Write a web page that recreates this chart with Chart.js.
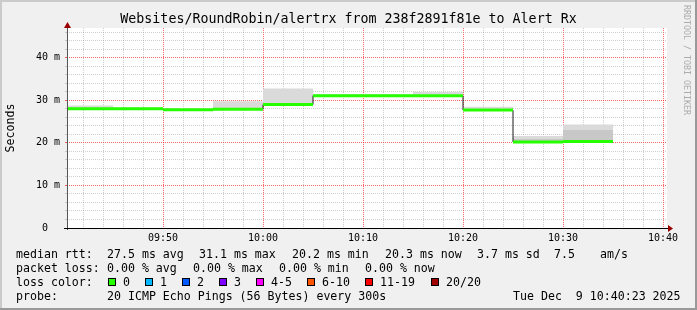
<!DOCTYPE html>
<html>
<head>
<meta charset="utf-8">
<script src="https://cdn.jsdelivr.net/npm/chart.js@4/dist/chart.umd.min.js"></script>
<style>
  html, body { margin: 0; padding: 0; background: #f0f0f0; }
  #wrap { position: relative; width: 697px; height: 310px; background: #f0f0f0; overflow: hidden;
          font-family: "DejaVu Sans Mono", monospace; color: #000; }
  #wrap canvas { position: absolute; left: 0; top: 0; }
  .edge { position: absolute; }
  .lg { position: absolute; font-size: 11.6px; line-height: 14px; white-space: pre; }
  .box { position: absolute; width: 6px; height: 6px; border: 1px solid #000; }
  #mark { position: absolute; left: 682px; top: 5px; writing-mode: vertical-rl; font-size: 8.3px;
          line-height: 10px; color: #ababab; white-space: pre; }
</style>
</head>
<body>
<div id="wrap">
  <canvas id="chart" width="697" height="310"></canvas>
  <div class="edge" style="left:0;top:0;width:697px;height:2px;background:#cbcbcb"></div>
  <div class="edge" style="left:0;top:0;width:2px;height:310px;background:#cbcbcb"></div>
  <div class="edge" style="left:0;top:308px;width:697px;height:2px;background:#999"></div>
  <div class="edge" style="left:695px;top:0;width:2px;height:310px;background:#999"></div>
  <div id="mark">RRDTOOL / TOBI OETIKER</div>
</div>
<script>
// smokeping style graph: 5 min steps, 1 hour window

const windowStart = "09:40:24";
const windowEnd = "10:40:24";
const periodStart = ["09:40", "09:45", "09:50", "09:55", "10:00", "10:05", "10:10", "10:15", "10:20", "10:25", "10:30"];
const stepMinutes = 5;

const medianRtt = [28.0, 28.0, 27.8, 27.9, 29.0, 31.1, 31.1, 31.1, 27.7, 20.2, 20.3];
const smokeLow  = [27.7, 27.8, 27.6, 27.7, 28.8, 30.9, 30.9, 30.9, 27.5, 20.0, 20.1];
const smokeMid  = [28.2, 28.1, 27.9, 28.2, 29.3, 31.2, 31.2, 31.3, 27.9, 20.9, 23.0];
const smokeHigh = [28.8, 28.3, 28.0, 29.8, 32.8, 31.4, 31.4, 32.0, 28.5, 21.6, 24.3];

const yMax = 47;
const yLabelTicks = [0, 10, 20, 30, 40];
const xTickLabels = ["09:50", "10:00", "10:10", "10:20", "10:30", "10:40"];

const titleText = "Websites/RoundRobin/alertrx from 238f2891f81e to Alert Rx";
const rttLegend = ["median rtt:", "27.5 ms avg", "31.1 ms max", "20.2 ms min", "20.3 ms now", "3.7 ms sd", "7.5", "am/s"];
const lossLegend = ["packet loss:", "0.00 % avg", "0.00 % max", "0.00 % min", "0.00 % now"];
const lossLabels = ["0", "1", "2", "3", "4-5", "6-10", "11-19", "20/20"];
const lossColors = ["#26ff00", "#00b8ff", "#0059ff", "#7e00ff", "#ff00ff", "#ff5500", "#ff0000", "#a10000"];
const probeLegend = ["probe:", "20 ICMP Echo Pings (56 Bytes) every 300s", "Tue Dec  9 10:40:23 2025"];

const toMin = (s) => {
  const [h, m, sec] = s.split(":").map(Number);
  return h * 60 + m + (sec || 0) / 60;
};
const fmtMin = (v) => {
  const h = Math.floor(v / 60), m = Math.round(v - h * 60);
  return String(h).padStart(2, "0") + ":" + String(m).padStart(2, "0");
};

const xMin = toMin(windowStart);
const xMax = toMin(windowEnd);
const majorX = xTickLabels.map(toMin);
const isMajorX = (v) => majorX.some((m) => Math.abs(m - v) < 0.01);
const isMajorY = (v) => yLabelTicks.some((m) => Math.abs(m - v) < 0.01);

function stepped(values) {
  const pts = periodStart.map((t, i) => ({ x: toMin(t), y: values[i] }));
  const last = periodStart.length - 1;
  pts.push({ x: toMin(periodStart[last]) + stepMinutes, y: values[last] });
  return pts;
}

// flat pieces only, the verticals come from the dark line underneath
function flatPieces(values) {
  return periodStart.flatMap((t, i) => [
    { x: toMin(t), y: values[i] },
    { x: toMin(t) + stepMinutes, y: values[i] },
    { x: toMin(t) + stepMinutes, y: null }
  ]);
}

const MONO = "DejaVu Sans Mono";
const RED_GRID = "rgba(255, 0, 0, 0.6)";
const GRAY_GRID = "rgba(140, 140, 140, 0.42)";

const gridColor = (isMajor) => (c) => {
  const v = c.tick ? c.tick.value : c.scale.ticks[c.index] && c.scale.ticks[c.index].value;
  return isMajor(v) ? RED_GRID : GRAY_GRID;
};

const canvasBg = {
  id: "canvasBg",
  beforeDraw(chart) {
    const { ctx, chartArea: a } = chart;
    ctx.save();
    ctx.fillStyle = "#ffffff";
    ctx.fillRect(a.left, a.top, a.right - a.left, a.bottom - a.top);
    ctx.restore();
  }
};

const axisArrows = {
  id: "axisArrows",
  afterDatasetsDraw(chart) {
    const { ctx, chartArea: a } = chart;
    ctx.save();
    ctx.lineWidth = 1;
    ctx.strokeStyle = "#555";
    ctx.beginPath();
    ctx.moveTo(a.left + 0.5, a.bottom + 2);
    ctx.lineTo(a.left + 0.5, a.top - 3);
    ctx.stroke();
    ctx.strokeStyle = "#000";
    ctx.beginPath();
    ctx.moveTo(a.left - 3, a.bottom + 0.5);
    ctx.lineTo(a.right + 3, a.bottom + 0.5);
    ctx.stroke();
    ctx.fillStyle = "#9a0000";
    ctx.beginPath();
    ctx.moveTo(a.left + 0.5, a.top - 6);
    ctx.lineTo(a.left - 3, a.top);
    ctx.lineTo(a.left + 4, a.top);
    ctx.closePath();
    ctx.fill();
    ctx.beginPath();
    ctx.moveTo(a.right + 6, a.bottom + 0.5);
    ctx.lineTo(a.right + 1, a.bottom - 3);
    ctx.lineTo(a.right + 1, a.bottom + 4);
    ctx.closePath();
    ctx.fill();
    ctx.restore();
  }
};

new Chart(document.getElementById("chart"), {
  type: "line",
  data: {
    datasets: [
      {
        data: flatPieces(medianRtt),
        borderColor: "#26ff00",
        borderWidth: 3,
        borderCapStyle: "butt",
        spanGaps: false,
        fill: false,
        order: 0
      },
      {
        data: stepped(medianRtt),
        stepped: "before",
        borderColor: "#1a1a1a",
        borderWidth: 1,
        fill: false,
        order: 1
      },
      {
        data: stepped(smokeHigh),
        stepped: "before",
        borderWidth: 0,
        borderColor: "rgba(0,0,0,0)",
        backgroundColor: "rgb(218, 218, 218)",
        fill: "+1",
        order: 2
      },
      {
        data: stepped(smokeMid),
        stepped: "before",
        borderWidth: 0,
        borderColor: "rgba(0,0,0,0)",
        backgroundColor: "rgb(200, 200, 200)",
        fill: "+1",
        order: 3
      },
      {
        data: stepped(smokeLow),
        stepped: "before",
        borderWidth: 0,
        borderColor: "rgba(0,0,0,0)",
        fill: false,
        order: 4
      }
    ]
  },
  options: {
    responsive: false,
    animation: false,
    devicePixelRatio: 1,
    parsing: false,
    normalized: true,
    layout: { padding: 0 },
    elements: { point: { radius: 0, hoverRadius: 0 }, line: { tension: 0 } },
    plugins: {
      legend: { display: false },
      tooltip: { enabled: false },
      title: {
        display: true,
        text: titleText,
        color: "#000",
        font: { family: MONO, size: 13.3, weight: "normal" },
        padding: { top: 12, bottom: 0 }
      }
    },
    scales: {
      x: {
        type: "linear",
        min: xMin,
        max: xMax,
        afterBuildTicks: (s) => {
          const t = [];
          for (let v = Math.ceil(xMin / 2) * 2; v <= xMax; v += 2) t.push({ value: v });
          s.ticks = t;
        },
        afterFit: (s) => { s.height = 82; },
        ticks: {
          autoSkip: false,
          maxRotation: 0,
          padding: 4,
          color: "#000",
          font: { family: MONO, size: 10 },
          callback: (v) => (isMajorX(v) ? fmtMin(v) : "")
        },
        grid: {
          color: gridColor(isMajorX),
          drawTicks: false
        },
        border: { display: false, dash: [1, 1] }
      },
      y: {
        min: 0,
        max: yMax,
        afterBuildTicks: (s) => {
          const t = [];
          for (let v = 0; v < yMax; v += 2) t.push({ value: v });
          s.ticks = t;
        },
        afterFit: (s) => { s.width = 67; },
        ticks: {
          autoSkip: false,
          padding: 5,
          color: "#000",
          font: { family: MONO, size: 10 },
          callback: (v) => (isMajorY(v) ? (v === 0 ? "0  " : v + " m") : "")
        },
        grid: {
          color: gridColor(isMajorY),
          drawTicks: true,
          tickLength: 2
        },
        border: { display: false, dash: [1, 1] },
        title: {
          display: true,
          text: "Seconds",
          color: "#000",
          font: { family: MONO, size: 11.6 },
          padding: { top: 4.5, bottom: 0 }
        }
      },
      // empty strip on the right, keeps the plot at 600 px wide
      side: {
        position: "right",
        display: true,
        min: 0,
        max: 1,
        afterFit: (s) => { s.width = 30; },
        ticks: { display: false },
        grid: { display: false, drawOnChartArea: false },
        border: { display: false }
      }
    }
  },
  plugins: [canvasBg, axisArrows]
});

// legend block under the plot
const wrap = document.getElementById("wrap");
function addText(txt, left, top) {
  const d = document.createElement("div");
  d.className = "lg";
  d.textContent = txt;
  d.style.left = left + "px";
  d.style.top = top + "px";
  wrap.appendChild(d);
}
const rttCols = [16, 107, 199, 292, 385, 477, 554, 600];
const lossCols = [16, 107, 193, 279, 365];
const boxCols = [108, 145, 182, 219, 256, 307, 365, 431];
const probeCols = [16, 107, 513];

rttLegend.forEach((t, i) => addText(t, rttCols[i], 247));
lossLegend.forEach((t, i) => addText(t, lossCols[i], 261));
addText("loss color:", 16, 275);
lossLabels.forEach((t, i) => {
  const b = document.createElement("div");
  b.className = "box";
  b.style.left = boxCols[i] + "px";
  b.style.top = "278px";
  b.style.background = lossColors[i];
  wrap.appendChild(b);
  addText(t, boxCols[i] + 15, 275);
});
probeLegend.forEach((t, i) => addText(t, probeCols[i], 289));
</script>
</body>
</html>
